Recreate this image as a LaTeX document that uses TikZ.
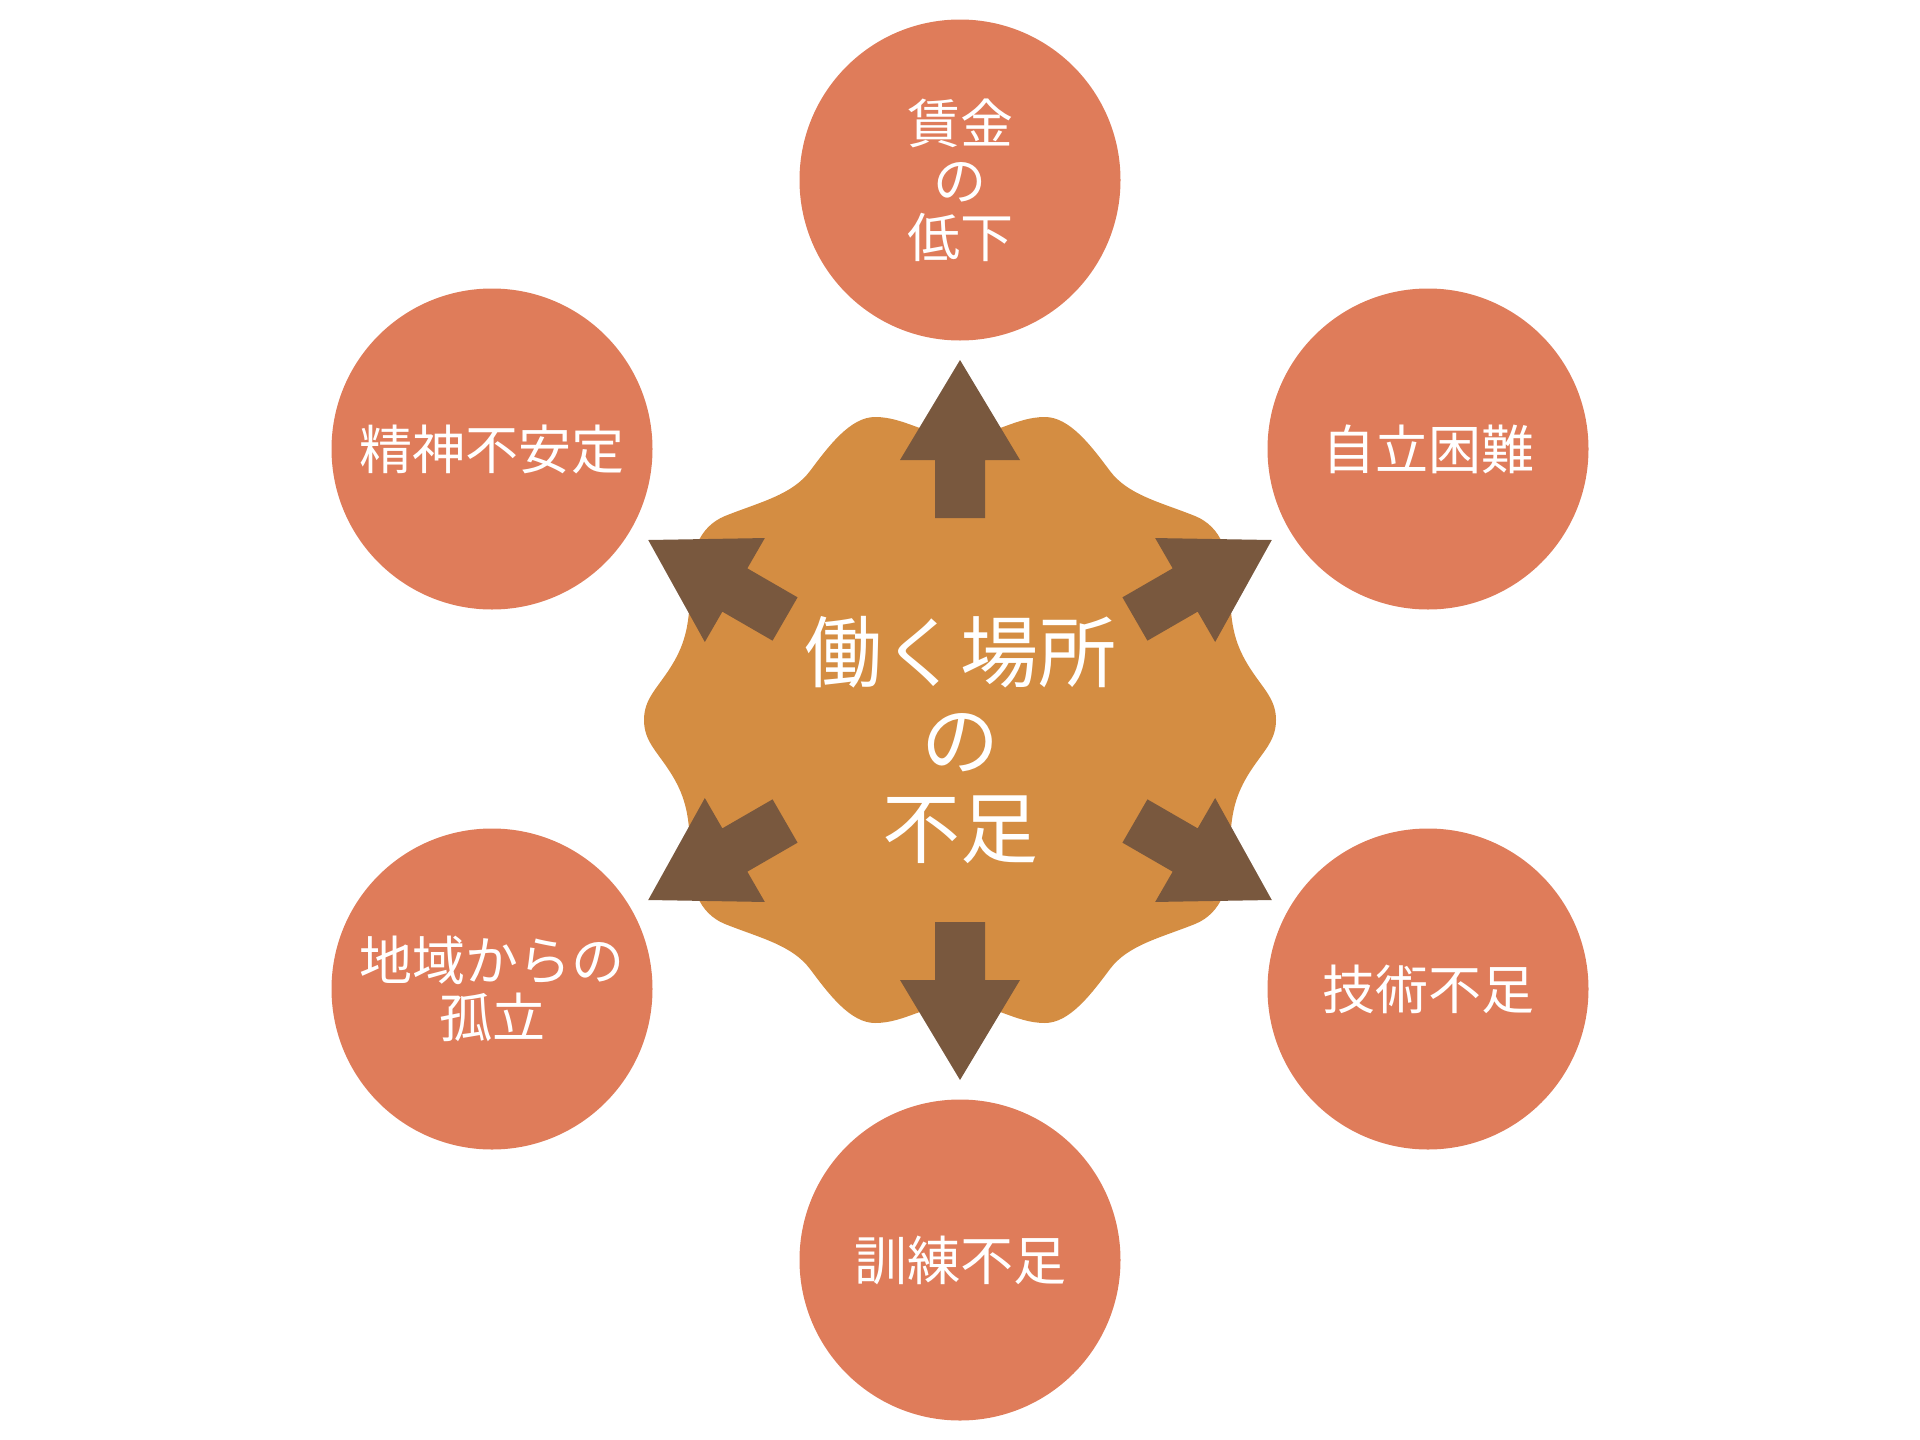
\documentclass[tikz,border=0pt]{standalone}
\usepackage{fontspec}
\newfontfamily\jp{Noto Sans CJK JP}
\definecolor{circ}{HTML}{DF7C5A}
\definecolor{wave}{HTML}{D48D42}
\definecolor{arr}{HTML}{79583E}
\begin{document}
\begin{tikzpicture}[x=1pt,y=-1pt,
  item/.style={circle, fill=circ, minimum size=321pt, inner sep=0pt, text=white, align=center,
    font=\jp\fontsize{53pt}{57pt}\selectfont},
  hub/.style={inner sep=0pt, text=white, align=center, font=\jp\fontsize{78pt}{88pt}\selectfont},
  blockarrow/.style={fill=arr},
  waveshape/.style={fill=wave}]
\useasboundingbox (0,0) rectangle (1920,1440);
\coordinate (c) at (960,720);
\fill[waveshape, shift={(960,720)}]
  (0,-284) .. controls (-35,-284) and (-55,-303) .. (-85,-303)
  .. controls (-110,-303) and (-132,-273) .. (-150,-249)
  .. controls (-168,-225) and (-200,-218) .. (-235,-204)
  .. controls (-262,-193) and (-270,-165) .. (-270,-135)
  .. controls (-270,-98) and (-274,-78) .. (-288,-55)
  .. controls (-302,-32) and (-316,-22) .. (-316,0)
  .. controls (-316,22) and (-302,32) .. (-288,55)
  .. controls (-274,78) and (-270,98) .. (-270,135)
  .. controls (-270,165) and (-262,193) .. (-235,204)
  .. controls (-200,218) and (-168,225) .. (-150,249)
  .. controls (-132,273) and (-110,303) .. (-85,303)
  .. controls (-55,303) and (-35,284) .. (0,284)
  .. controls (35,284) and (55,303) .. (85,303)
  .. controls (110,303) and (132,273) .. (150,249)
  .. controls (168,225) and (200,218) .. (235,204)
  .. controls (262,193) and (270,165) .. (270,135)
  .. controls (270,98) and (274,78) .. (288,55)
  .. controls (302,32) and (316,22) .. (316,0)
  .. controls (316,-22) and (302,-32) .. (288,-55)
  .. controls (274,-78) and (270,-98) .. (270,-135)
  .. controls (270,-165) and (262,-193) .. (235,-204)
  .. controls (200,-218) and (168,-225) .. (150,-249)
  .. controls (132,-273) and (110,-303) .. (85,-303)
  .. controls (55,-303) and (35,-284) .. (0,-284) -- cycle;
\foreach \a in {30,90,150,210,270,330}
  \fill[blockarrow, shift={(c)}, rotate=\a] (202pt,25pt) -- (260pt,25pt) -- (260pt,60pt) -- (360pt,0pt)
     -- (260pt,-60pt) -- (260pt,-25pt) -- (202pt,-25pt) -- cycle;
\node[hub] (hub) at (960,740) {働く場所\\の\\不足};
\node[item] (wage) at (960,180) {賃金\\の\\低下};
\node[item] (indep) at (1428,449) {自立困難};
\node[item] (skill) at (1428,989) {技術不足};
\node[item] (train) at (960,1260) {訓練不足};
\node[item] (isol) at (492,989) {地域からの\\孤立};
\node[item] (mental) at (492,449) {精神不安定};
\end{tikzpicture}
\end{document}
